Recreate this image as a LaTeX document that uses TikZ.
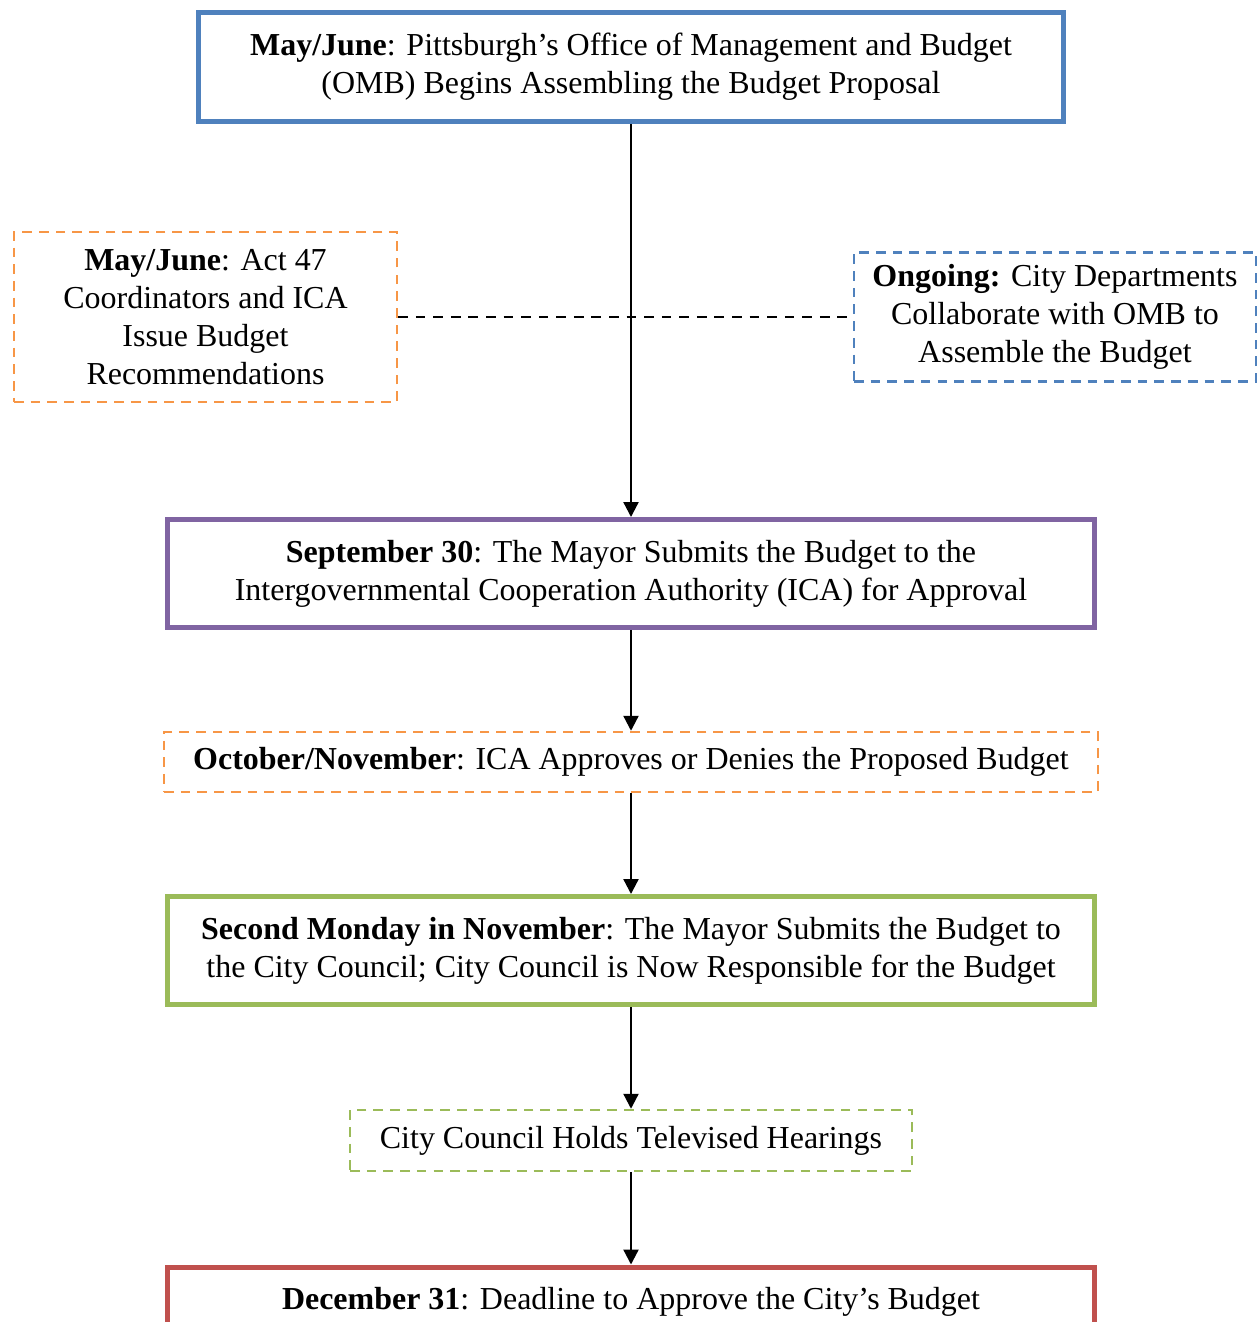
\documentclass[tikz,border=0pt]{standalone}
\usepackage{fontspec}
\setmainfont{Liberation Serif}
\usetikzlibrary{arrows.meta}
\definecolor{ombblue}{HTML}{4F81BD}
\definecolor{icaorange}{HTML}{F79646}
\definecolor{mayorpurple}{HTML}{8064A2}
\definecolor{councilgreen}{HTML}{9BBB59}
\definecolor{deadlinered}{HTML}{C0504D}

\begin{document}
\begin{tikzpicture}[x=0.02cm, y=-0.02cm,
		font=\fontsize{18.2}{21.6}\selectfont,
		bigbox/.style={draw, line width=0.1cm, inner sep=0pt, align=center, minimum width=18.54cm, minimum height=2.16cm},
		dashbox/.style={draw, line width=0.05cm, dash pattern=on 5.5pt off 4pt, inner sep=0pt, align=center},
		flow/.style={-{Triangle[length=0.3cm, width=0.3cm]}, line width=0.045cm}]
			\clip (0,0) rectangle (1260,1322);
			% main steps
			\node[bigbox, draw=ombblue, minimum width=17.3cm, minimum height=2.18cm] (omb) at (631,67)
				{\textbf{May/June}: Pittsburgh’s Office of Management and Budget\\(OMB) Begins Assembling the Budget Proposal};
			\node[bigbox, draw=mayorpurple] (sept) at (631,573.5)
				{\textbf{September 30}: The Mayor Submits the Budget to the\\Intergovernmental Cooperation Authority (ICA) for Approval};
			\node[dashbox, draw=icaorange, minimum width=18.68cm, minimum height=1.2cm] (ica) at (631,762)
				{\textbf{October/November}: ICA Approves or Denies the Proposed Budget};
			\node[bigbox, draw=councilgreen] (nov) at (631,950.5)
				{\textbf{Second Monday in November}: The Mayor Submits the Budget to\\the City Council; City Council is Now Responsible for the Budget};
			\node[dashbox, draw=councilgreen, minimum width=11.24cm, minimum height=1.22cm] (hear) at (631,1140.5)
				{City Council Holds Televised Hearings};
			\node[bigbox, draw=deadlinered, anchor=north, inner ysep=0.2cm, text height=0.54cm, text depth=1cm] (dec) at (631,1264.5)
				{\textbf{December 31}: Deadline to Approve the City’s Budget};
			% side boxes
			\node[dashbox, draw=icaorange, minimum width=7.66cm, minimum height=3.4cm] (act) at (205.5,317)
				{\textbf{May/June}: Act 47\\Coordinators and ICA\\Issue Budget\\Recommendations};
			\node[dashbox, draw=ombblue, minimum width=8.04cm, minimum height=2.58cm] (dept) at (1055,317)
				{\textbf{Ongoing:} City Departments\\Collaborate with OMB to\\Assemble the Budget};
			% connectors
			\draw[line width=0.045cm, dash pattern=on 5.5pt off 4.5pt] (act.east) -- (dept.west);
			\draw[flow] (omb) -- (sept);
			\draw[flow] (sept) -- (ica);
			\draw[flow] (ica) -- (nov);
			\draw[flow] (nov) -- (hear);
			\draw[flow] (hear) -- (dec);
		\end{tikzpicture}
\end{document}
